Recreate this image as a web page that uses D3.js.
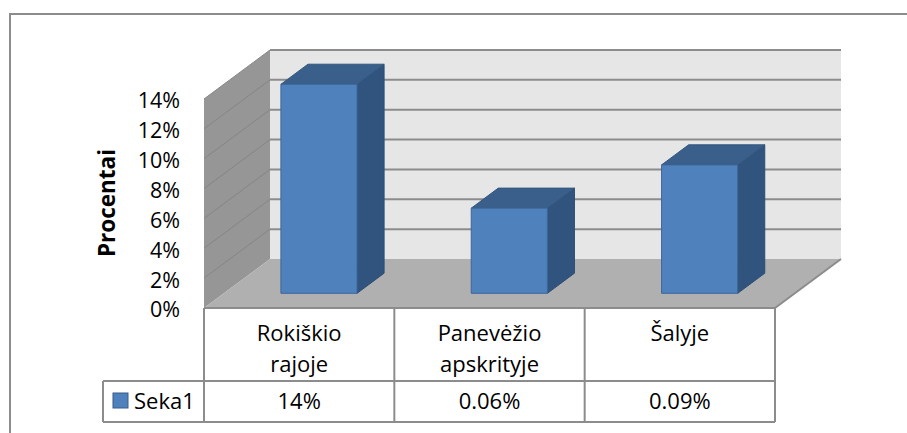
<!DOCTYPE html>
<html>

<head>
    <meta charset="utf-8">
    <title>Procentai</title>
    <script src="https://d3js.org/d3.v7.min.js"></script>
    <style>
        body { margin: 0; background: #fff; }
        text { font-family: "Open Sans", "DejaVu Sans", sans-serif; fill: #000; }
    </style>
</head>

<body>

    <svg width="907" height="433" id="mainSvg"></svg>
    <script>

        // data
        const categories = ["Rokiškio rajoje", "Panevėžio apskrityje", "Šalyje"];
        const values = [14, 5.7, 8.6];
        const tableLabels = ["14%", "0.06%", "0.09%"];
        const yTicks = [0, 2, 4, 6, 8, 10, 12, 14];
        const seriesName = "Seka1";
        const axisTitle = "Procentai";

        const svg = d3.select("#mainSvg");

        // front plane of the 3d box
        const front = { left: 204, right: 775, top: 99, bottom: 308 };
        // depth offset of the back wall
        const DX = 66, DY = -49;
        // bars sit between these depth fractions
        const zFront = 0.3, zBack = 0.71;

        const yScale = d3.scaleLinear()
            .domain([0, 14])
            .range([front.bottom, front.top]);

        const xScale = d3.scaleBand()
            .domain(categories)
            .range([front.left, front.right])
            .padding(0);

        const P = (x, y, z) => [x + z * DX, y + z * DY];
        const poly = pts => pts.map(p => p.join(",")).join(" ");

        // outer border
        svg.append("rect")
            .attr("x", 10).attr("y", 14)
            .attr("width", 1000).attr("height", 600)
            .attr("fill", "none")
            .attr("stroke", "#8c8c8c")
            .attr("stroke-width", 2);

        const y0 = yScale(0), yTop = yScale(14);

        // back wall
        svg.append("polygon")
            .attr("points", poly([P(front.left, yTop, 1), P(front.right, yTop, 1), P(front.right, y0, 1), P(front.left, y0, 1)]))
            .attr("fill", "#e6e6e6");

        // left wall
        svg.append("polygon")
            .attr("points", poly([P(front.left, y0, 0), P(front.left, yTop, 0), P(front.left, yTop, 1), P(front.left, y0, 1)]))
            .attr("fill", "#969696");

        // floor
        svg.append("polygon")
            .attr("points", poly([P(front.left, y0, 0), P(front.right, y0, 0), P(front.right, y0, 1), P(front.left, y0, 1)]))
            .attr("fill", "#b0b0b0");

        // gridlines on back wall
        svg.selectAll(".gridBack")
            .data(yTicks.filter(d => d > 0))
            .join("line")
            .attr("class", "gridBack")
            .attr("x1", front.left + DX).attr("x2", front.right + DX)
            .attr("y1", d => yScale(d) + DY).attr("y2", d => yScale(d) + DY)
            .attr("stroke", "#8c8c8c")
            .attr("stroke-width", 2);

        // gridlines on left wall
        svg.selectAll(".gridSide")
            .data(yTicks.filter(d => d > 0))
            .join("line")
            .attr("class", "gridSide")
            .attr("x1", front.left).attr("x2", front.left + DX)
            .attr("y1", d => yScale(d)).attr("y2", d => yScale(d) + DY)
            .attr("stroke", "#858585")
            .attr("stroke-width", 1);

        // floor right edge
        svg.append("line")
            .attr("x1", front.right).attr("y1", y0)
            .attr("x2", front.right + DX).attr("y2", y0 + DY)
            .attr("stroke", "#8c8c8c").attr("stroke-width", 2);

        // bars
        const bw = xScale.bandwidth() * 0.4;
        const bars = svg.selectAll(".bar")
            .data(categories.map((c, i) => ({ c: c, v: values[i] })))
            .join("g")
            .attr("class", "bar");

        const bx = d => xScale(d.c) + xScale.bandwidth() * 0.3;

        bars.append("polygon")
            .attr("points", d => poly([
                P(bx(d) + bw, yScale(d.v), zFront), P(bx(d) + bw, yScale(d.v), zBack),
                P(bx(d) + bw, y0, zBack), P(bx(d) + bw, y0, zFront)]))
            .attr("fill", "#31547e")
            .attr("stroke", "#2c4c74").attr("stroke-width", 1);

        bars.append("polygon")
            .attr("points", d => poly([
                P(bx(d), yScale(d.v), zFront), P(bx(d) + bw, yScale(d.v), zFront),
                P(bx(d) + bw, yScale(d.v), zBack), P(bx(d), yScale(d.v), zBack)]))
            .attr("fill", "#3a5f8b")
            .attr("stroke", "#34577f").attr("stroke-width", 1);

        bars.append("polygon")
            .attr("points", d => poly([
                P(bx(d), yScale(d.v), zFront), P(bx(d) + bw, yScale(d.v), zFront),
                P(bx(d) + bw, y0, zFront), P(bx(d), y0, zFront)]))
            .attr("fill", "#4f81bd")
            .attr("stroke", "#3d6699").attr("stroke-width", 1);

        // y axis labels
        const yAxis = d3.axisLeft(yScale)
            .tickValues(yTicks)
            .tickFormat(d => d + "%")
            .tickSize(0)
            .tickPadding(24);

        const yAxisGroup = svg.append("g")
            .attr("transform", `translate(${front.left}, 2)`)
            .call(yAxis);
        yAxisGroup.select(".domain").remove();
        yAxisGroup.selectAll("text")
            .attr("font-size", 21.5)
            .style("font-family", '"Open Sans", sans-serif')
            .attr("fill", "#000");

        svg.append("text")
            .attr("transform", "translate(115, 203) rotate(-90)")
            .attr("text-anchor", "middle")
            .attr("font-size", 22.5)
            .attr("font-weight", "bold")
            .text(axisTitle);

        // data table
        const rowTop = y0, rowMid = 381, rowBot = 422, legLeft = 103;
        const lineStyle = sel => sel.attr("stroke", "#8c8c8c").attr("stroke-width", 2);

        svg.append("line").attr("x1", front.left).attr("x2", front.right)
            .attr("y1", rowTop).attr("y2", rowTop).call(lineStyle);
        svg.append("line").attr("x1", legLeft).attr("x2", front.right)
            .attr("y1", rowMid).attr("y2", rowMid).call(lineStyle);
        svg.append("line").attr("x1", legLeft).attr("x2", front.right)
            .attr("y1", rowBot).attr("y2", rowBot).call(lineStyle);
        svg.append("line").attr("x1", legLeft).attr("x2", legLeft)
            .attr("y1", rowMid).attr("y2", rowBot).call(lineStyle);

        svg.selectAll(".colLine")
            .data(categories.map(c => xScale(c)).concat([front.right]))
            .join("line")
            .attr("class", "colLine")
            .attr("x1", d => d).attr("x2", d => d)
            .attr("y1", rowTop).attr("y2", rowBot)
            .call(lineStyle);

        svg.selectAll(".catLabel")
            .data(categories)
            .join("text")
            .attr("class", "catLabel")
            .attr("text-anchor", "middle")
            .attr("font-size", 22)
            .selectAll("tspan")
            .data(c => c.split(" ").map(t => ({ c: c, t: t })))
            .join("tspan")
            .attr("x", d => xScale(d.c) + xScale.bandwidth() / 2)
            .attr("y", (d, i) => 341 + i * 31)
            .text(d => d.t);

        svg.selectAll(".valLabel")
            .data(tableLabels)
            .join("text")
            .attr("class", "valLabel")
            .attr("text-anchor", "middle")
            .attr("font-size", 22)
            .attr("x", (d, i) => xScale(categories[i]) + xScale.bandwidth() / 2)
            .attr("y", 409)
            .text(d => d);

        // legend key
        svg.append("rect")
            .attr("x", 113).attr("y", 393)
            .attr("width", 15).attr("height", 15)
            .attr("fill", "#4f81bd")
            .attr("stroke", "#385d8a").attr("stroke-width", 1);

        svg.append("text")
            .attr("x", 134).attr("y", 409)
            .attr("font-size", 22)
            .text(seriesName);

    </script>
</body>

</html>
